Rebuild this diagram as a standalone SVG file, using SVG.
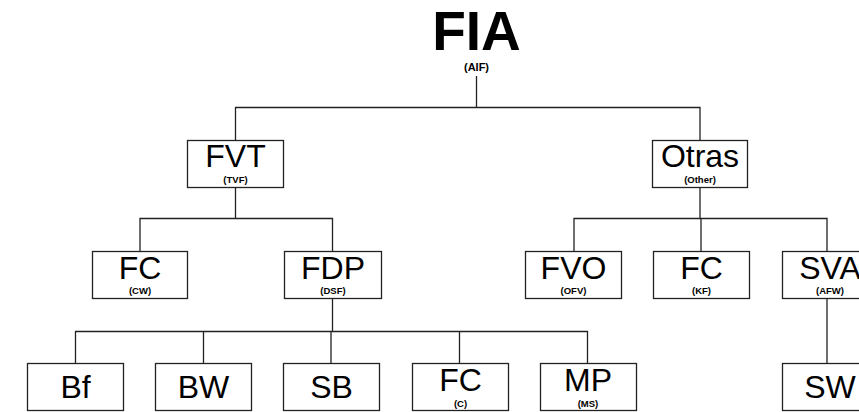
<svg xmlns="http://www.w3.org/2000/svg" width="859" height="412" viewBox="0 0 859 412">
<style>
.box{fill:#fff;stroke:#222;stroke-width:1.3}
.ln{fill:none;stroke:#222;stroke-width:1.3}
.m{font-family:"Liberation Sans",Arial,sans-serif;font-size:32px;text-anchor:middle;fill:#000}
.s{font-family:"Liberation Sans",Arial,sans-serif;font-size:9.5px;font-weight:bold;text-anchor:middle;fill:#000}
</style>
<rect width="859" height="412" fill="#fff"/>
<g id="connectors">
<path class="ln" d="M476.5 76V107.5M235.5 140V107.5H700V140"/>
<path class="ln" d="M235.5 188V218.5M140 251V218.5H332.5V251"/>
<path class="ln" d="M700 188V218.5M574 251V218.5H827V251M701 218.5V251"/>
<path class="ln" d="M332.5 299V331.5M75.5 363V331.5H587.5V363M203.5 331.5V363M331 331.5V363M459.5 331.5V363"/>
<path class="ln" d="M827 299V363"/>
</g>
<g id="FIA">
<text x="476.5" y="50" font-family="Liberation Sans,Arial,sans-serif" font-size="55" font-weight="bold" text-anchor="middle">FIA</text>
<text x="476.5" y="71" font-family="Liberation Sans,Arial,sans-serif" font-size="11" font-weight="bold" text-anchor="middle">(AIF)</text>
</g>
<g id="FVT"><rect class="box" x="187.5" y="140.5" width="96" height="47"/><text class="m" x="235.5" y="167">FVT</text><text class="s" x="235.5" y="183">(TVF)</text></g>
<g id="Otras"><rect class="box" x="652.5" y="140.5" width="95" height="47"/><text class="m" x="700" y="167">Otras</text><text class="s" x="700" y="183">(Other)</text></g>
<g id="FC_CW"><rect class="box" x="92.5" y="251.5" width="95" height="47"/><text class="m" x="140" y="279">FC</text><text class="s" x="140" y="294">(CW)</text></g>
<g id="FDP"><rect class="box" x="284.5" y="251.5" width="97" height="47"/><text class="m" x="333" y="279">FDP</text><text class="s" x="333" y="294">(DSF)</text></g>
<g id="FVO"><rect class="box" x="525.5" y="251.5" width="96" height="47"/><text class="m" x="573.5" y="279">FVO</text><text class="s" x="573.5" y="294">(OFV)</text></g>
<g id="FC_KF"><rect class="box" x="653.5" y="251.5" width="96" height="47"/><text class="m" x="701.5" y="279">FC</text><text class="s" x="701.5" y="294">(KF)</text></g>
<g id="SVA"><rect class="box" x="782.5" y="251.5" width="96" height="47"/><text class="m" x="830" y="279">SVA</text><text class="s" x="830" y="294">(AFW)</text></g>
<g id="Bf"><rect class="box" x="27.5" y="363.5" width="96" height="47"/><text class="m" x="75.5" y="398">Bf</text></g>
<g id="BW"><rect class="box" x="155.5" y="363.5" width="96" height="47"/><text class="m" x="203.5" y="398">BW</text></g>
<g id="SB"><rect class="box" x="283.5" y="363.5" width="96" height="47"/><text class="m" x="331.5" y="398">SB</text></g>
<g id="FC_C"><rect class="box" x="412.5" y="363.5" width="96" height="47"/><text class="m" x="460.5" y="391">FC</text><text class="s" x="460.5" y="407">(C)</text></g>
<g id="MP"><rect class="box" x="540.5" y="363.5" width="96" height="47"/><text class="m" x="588" y="391">MP</text><text class="s" x="588" y="407">(MS)</text></g>
<g id="SW"><rect class="box" x="782.5" y="363.5" width="96" height="47"/><text class="m" x="830" y="398">SW</text></g>
</svg>
